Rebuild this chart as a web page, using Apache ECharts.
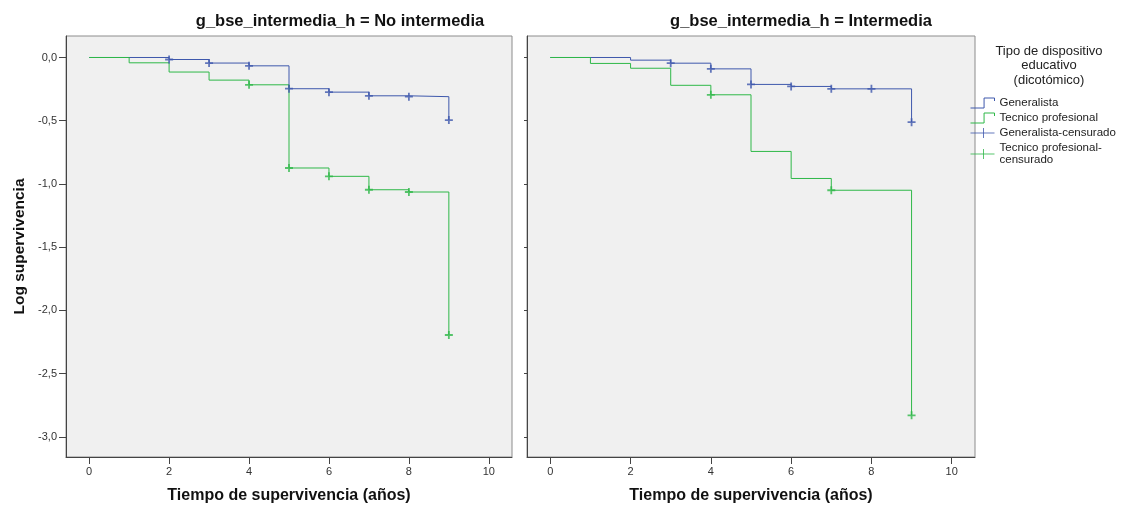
<!DOCTYPE html>
<html>
<head>
<meta charset="utf-8">
<script src="https://cdn.jsdelivr.net/npm/echarts@6/dist/echarts.min.js"></script>
<style>
html,body{margin:0;padding:0;background:#fff}
#chart{width:1124px;height:511px}
</style>
</head>
<body>
<div id="chart"></div>
<script>
// textos
var paneles = ['g_bse_intermedia_h = No intermedia', 'g_bse_intermedia_h = Intermedia'];
var grupos = ['Generalista', 'Tecnico profesional'];
var censurados = ['Generalista-censurado', 'Tecnico profesional-censurado'];
var colores = ['#3E58AC', '#2EB848'];

var ticksX = [0, 2, 4, 6, 8, 10];
var ticksY = [0, -0.5, -1, -1.5, -2, -2.5, -3];

// g_bse_intermedia_h = No intermedia
var noGenT   = [0, 2, 3, 4, 5, 6, 7, 8, 9];
var noGenLog = [0, -0.016, -0.044, -0.066, -0.247, -0.274, -0.303, -0.31, -0.495];
var noGenCens = [2, 3, 4, 5, 6, 7, 8, 9];
var noTecT   = [0, 1, 2, 3, 4, 5, 6, 7, 8, 9];
var noTecLog = [0, -0.042, -0.115, -0.179, -0.216, -0.874, -0.94, -1.046, -1.064, -2.195];
var noTecCens = [4, 5, 6, 7, 8, 9];

// g_bse_intermedia_h = Intermedia
var inGenT   = [0, 2, 3, 4, 5, 6, 7, 9];
var inGenLog = [0, -0.021, -0.045, -0.09, -0.213, -0.229, -0.248, -0.512];
var inGenCens = [3, 4, 5, 6, 7, 8, 9];
var inTecT   = [0, 1, 2, 3, 4, 5, 6, 7, 9];
var inTecLog = [0, -0.047, -0.085, -0.22, -0.295, -0.743, -0.957, -1.05, -2.83];
var inTecCens = [4, 7, 9];

var fuente = '"Liberation Sans", Arial, sans-serif';
var cruz = 'path://M0,5 L10,5 M5,0 L5,10';

function pares(t, v) {
	var out = [];
	for (var i = 0; i < t.length; i++) out.push([t[i], v[i]]);
	return out;
}
// valor de la curva en el tiempo x (ultimo escalon)
function valorEn(t, v, x) {
	var r = v[0];
	for (var i = 0; i < t.length; i++) if (t[i] <= x) r = v[i];
	return r;
}
function marcas(t, v, cens) {
	var out = [];
	for (var i = 0; i < cens.length; i++) out.push([cens[i], valorEn(t, v, cens[i])]);
	return out;
}
function coma(v) {
	return v.toFixed(1).replace('.', ',');
}

var curvas = [
	[[noGenT, noGenLog, noGenCens], [noTecT, noTecLog, noTecCens]],
	[[inGenT, inGenLog, inGenCens], [inTecT, inTecLog, inTecCens]]
];

var series = [];
for (var p = 0; p < 2; p++) {
	for (var g = 0; g < 2; g++) {
		var c = curvas[p][g];
		series.push({
			name: grupos[g], type: 'line', step: 'end',
			xAxisIndex: p, yAxisIndex: p,
			symbol: 'none', silent: true, z: 2,
			lineStyle: {color: colores[g], width: 1},
			itemStyle: {color: colores[g]},
			data: pares(c[0], c[1])
		});
	}
	for (var g = 0; g < 2; g++) {
		var c = curvas[p][g];
		series.push({
			name: censurados[g], type: 'scatter',
			xAxisIndex: p, yAxisIndex: p,
			symbol: cruz, symbolSize: 8, silent: true, z: 3,
			itemStyle: {color: 'rgba(0,0,0,0)', borderColor: colores[g], borderWidth: 1.8},
			data: marcas(c[0], c[1], c[2])
		});
	}
}

var grids = [
	{left: 66, top: 36, width: 446, height: 421},
	{left: 527, top: 36, width: 448, height: 421}
];
grids.forEach(function (gr) {
	gr.show = true;
	gr.backgroundColor = '#F0F0F0';
	gr.borderColor = '#8c8c8c';
	gr.borderWidth = 1;
});

var xAxes = [], yAxes = [];
for (var p = 0; p < 2; p++) {
	xAxes.push({
		type: 'value', gridIndex: p, min: -0.58, max: 10.58,
		name: 'Tiempo de supervivencia (años)', nameLocation: 'middle', nameGap: 31,
		nameTextStyle: {fontFamily: fuente, fontWeight: 'bold', fontSize: 16, color: '#111'},
		axisLine: {onZero: false, lineStyle: {color: '#444', width: 1}},
		axisTick: {customValues: ticksX, length: 7, lineStyle: {color: '#444'}},
		axisLabel: {customValues: ticksX, margin: 9, fontFamily: fuente, fontSize: 11, color: '#333'},
		splitLine: {show: false}
	});
	yAxes.push({
		type: 'value', gridIndex: p, min: -3.16, max: 0.17,
		name: p === 0 ? 'Log supervivencia' : '', nameLocation: 'middle', nameGap: 38,
		nameTextStyle: {fontFamily: fuente, fontWeight: 'bold', fontSize: 15.5, color: '#111'},
		axisLine: {show: true, onZero: false, lineStyle: {color: '#444', width: 1}},
		axisTick: {customValues: ticksY, length: p === 0 ? 7 : 3, lineStyle: {color: '#444'}},
		axisLabel: {show: p === 0, customValues: ticksY, margin: 9, fontFamily: fuente, fontSize: 11, color: '#333',
			formatter: coma},
		splitLine: {show: false}
	});
}

var iconoPaso = 'path://M0,10 L13,10 L13,0 L23,0 L23,3';
var iconoCruz = 'path://M0,5 L24,5 M13,0 L13,10';

var el = echarts.init(document.getElementById('chart'));
el.setOption({
	backgroundColor: '#fff',
	animation: false,
	grid: grids,
	xAxis: xAxes,
	yAxis: yAxes,
	legend: {
		orient: 'vertical', left: 970, top: 97, padding: 0,
		itemWidth: 24, itemHeight: 10, itemGap: 3, symbolKeepAspect: false,
		textStyle: {fontFamily: fuente, fontSize: 11.5, color: '#222', lineHeight: 12},
		formatter: function (n) {
			return n === censurados[1] ? 'Tecnico profesional-\ncensurado' : n;
		},
		data: [
			{name: grupos[0], icon: iconoPaso, itemStyle: {color: 'rgba(0,0,0,0)', borderColor: colores[0], borderWidth: 1}},
			{name: grupos[1], icon: iconoPaso, itemStyle: {color: 'rgba(0,0,0,0)', borderColor: colores[1], borderWidth: 1}},
			{name: censurados[0], icon: iconoCruz, itemStyle: {color: 'rgba(0,0,0,0)', borderColor: colores[0], borderWidth: 1}},
			{name: censurados[1], icon: iconoCruz, itemStyle: {color: 'rgba(0,0,0,0)', borderColor: colores[1], borderWidth: 1}}
		]
	},
	graphic: [
		{type: 'text', x: 340, y: 21, style: {text: paneles[0], textAlign: 'center', textVerticalAlign: 'middle',
			font: 'bold 16.5px ' + fuente, fill: '#111'}},
		{type: 'text', x: 801, y: 21, style: {text: paneles[1], textAlign: 'center', textVerticalAlign: 'middle',
			font: 'bold 16.5px ' + fuente, fill: '#111'}},
		{type: 'text', x: 1049, y: 44, style: {text: 'Tipo de dispositivo\neducativo\n(dicotómico)', textAlign: 'center',
			font: '13px ' + fuente, lineHeight: 14.5, fill: '#222'}}
	],
	series: series
});
</script>
</body>
</html>
